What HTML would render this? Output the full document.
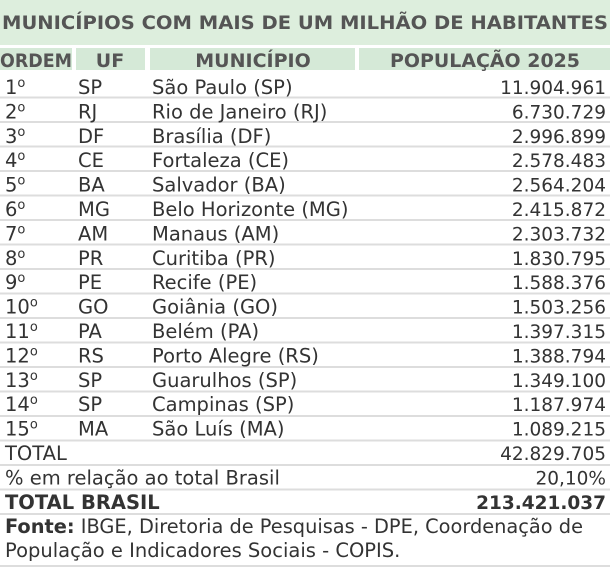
<!DOCTYPE html>
<html><head><meta charset="utf-8"><style>
html,body{margin:0;padding:0;background:#fff;}
svg{display:block;}
text{font-family:"DejaVu Sans","Liberation Sans",sans-serif;fill:#333;font-size:19.5px;}
.h{font-weight:bold;fill:#555;font-size:19px;}
.r{text-anchor:end;font-size:18.5px;}
.c{text-anchor:middle;}
.o{font-size:13px;}
</style></head><body>
<svg width="610" height="569" xmlns="http://www.w3.org/2000/svg">
<rect x="0" y="0" width="610" height="45" fill="#ddeedd"/>
<text class="h" x="2" y="29" textLength="606" lengthAdjust="spacingAndGlyphs">MUNICÍPIOS COM MAIS DE UM MILHÃO DE HABITANTES</text>
<rect x="0" y="48" width="72" height="22" fill="#d5e9d7"/>
<rect x="76" y="48" width="69" height="22" fill="#d5e9d7"/>
<rect x="150" y="48" width="205" height="22" fill="#d5e9d7"/>
<rect x="359" y="48" width="251" height="22" fill="#d5e9d7"/>
<text class="h" x="0" y="67" textLength="72" lengthAdjust="spacingAndGlyphs">ORDEM</text>
<text class="h c" x="110" y="67">UF</text>
<text class="h c" x="253" y="67">MUNICÍPIO</text>
<text class="h c" x="485" y="67" textLength="190" lengthAdjust="spacingAndGlyphs">POPULAÇÃO 2025</text>
<g stroke="#ddd" stroke-width="2">
<line x1="0" x2="610" y1="97.5" y2="97.5"/>
<line x1="0" x2="610" y1="122" y2="122"/>
<line x1="0" x2="610" y1="146.5" y2="146.5"/>
<line x1="0" x2="610" y1="171" y2="171"/>
<line x1="0" x2="610" y1="195.5" y2="195.5"/>
<line x1="0" x2="610" y1="220" y2="220"/>
<line x1="0" x2="610" y1="244.5" y2="244.5"/>
<line x1="0" x2="610" y1="269" y2="269"/>
<line x1="0" x2="610" y1="293.5" y2="293.5"/>
<line x1="0" x2="610" y1="318" y2="318"/>
<line x1="0" x2="610" y1="342.5" y2="342.5"/>
<line x1="0" x2="610" y1="367" y2="367"/>
<line x1="0" x2="610" y1="391.5" y2="391.5"/>
<line x1="0" x2="610" y1="416" y2="416"/>
<line x1="0" x2="610" y1="440.5" y2="440.5"/>
<line x1="0" x2="610" y1="465" y2="465"/>
<line x1="0" x2="610" y1="489.5" y2="489.5"/>
<line x1="0" x2="610" y1="514" y2="514"/>
<line x1="0" x2="610" y1="566" y2="566"/>
</g>
<g>
<text x="5" y="94">1<tspan class="o" dy="-7">o</tspan></text><text x="78" y="94">SP</text><text x="152" y="94">São Paulo (SP)</text><text class="r" x="606" y="94">11.904.961</text>
<text x="5" y="118.4">2<tspan class="o" dy="-7">o</tspan></text><text x="78" y="118.4">RJ</text><text x="152" y="118.4">Rio de Janeiro (RJ)</text><text class="r" x="606" y="118.4">6.730.729</text>
<text x="5" y="142.8">3<tspan class="o" dy="-7">o</tspan></text><text x="78" y="142.8">DF</text><text x="152" y="142.8">Brasília (DF)</text><text class="r" x="606" y="142.8">2.996.899</text>
<text x="5" y="167.2">4<tspan class="o" dy="-7">o</tspan></text><text x="78" y="167.2">CE</text><text x="152" y="167.2">Fortaleza (CE)</text><text class="r" x="606" y="167.2">2.578.483</text>
<text x="5" y="191.6">5<tspan class="o" dy="-7">o</tspan></text><text x="78" y="191.6">BA</text><text x="152" y="191.6">Salvador (BA)</text><text class="r" x="606" y="191.6">2.564.204</text>
<text x="5" y="216">6<tspan class="o" dy="-7">o</tspan></text><text x="78" y="216">MG</text><text x="152" y="216">Belo Horizonte (MG)</text><text class="r" x="606" y="216">2.415.872</text>
<text x="5" y="240.4">7<tspan class="o" dy="-7">o</tspan></text><text x="78" y="240.4">AM</text><text x="152" y="240.4">Manaus (AM)</text><text class="r" x="606" y="240.4">2.303.732</text>
<text x="5" y="264.8">8<tspan class="o" dy="-7">o</tspan></text><text x="78" y="264.8">PR</text><text x="152" y="264.8">Curitiba (PR)</text><text class="r" x="606" y="264.8">1.830.795</text>
<text x="5" y="289.2">9<tspan class="o" dy="-7">o</tspan></text><text x="78" y="289.2">PE</text><text x="152" y="289.2">Recife (PE)</text><text class="r" x="606" y="289.2">1.588.376</text>
<text x="5" y="313.6">10<tspan class="o" dy="-7">o</tspan></text><text x="78" y="313.6">GO</text><text x="152" y="313.6">Goiânia (GO)</text><text class="r" x="606" y="313.6">1.503.256</text>
<text x="5" y="338">11<tspan class="o" dy="-7">o</tspan></text><text x="78" y="338">PA</text><text x="152" y="338">Belém (PA)</text><text class="r" x="606" y="338">1.397.315</text>
<text x="5" y="362.4">12<tspan class="o" dy="-7">o</tspan></text><text x="78" y="362.4">RS</text><text x="152" y="362.4">Porto Alegre (RS)</text><text class="r" x="606" y="362.4">1.388.794</text>
<text x="5" y="386.8">13<tspan class="o" dy="-7">o</tspan></text><text x="78" y="386.8">SP</text><text x="152" y="386.8">Guarulhos (SP)</text><text class="r" x="606" y="386.8">1.349.100</text>
<text x="5" y="411.2">14<tspan class="o" dy="-7">o</tspan></text><text x="78" y="411.2">SP</text><text x="152" y="411.2">Campinas (SP)</text><text class="r" x="606" y="411.2">1.187.974</text>
<text x="5" y="435.6">15<tspan class="o" dy="-7">o</tspan></text><text x="78" y="435.6">MA</text><text x="152" y="435.6">São Luís (MA)</text><text class="r" x="606" y="435.6">1.089.215</text>
<text x="5" y="460">TOTAL</text><text class="r" x="606" y="460">42.829.705</text>
<text x="5" y="484.4">% em relação ao total Brasil</text><text class="r" x="606" y="484.4">20,10%</text>
<text x="5" y="508.8" font-weight="bold">TOTAL BRASIL</text><text class="r" x="606" y="508.8" font-weight="bold" font-size="19.5">213.421.037</text>
<text x="5" y="533" textLength="578" lengthAdjust="spacingAndGlyphs"><tspan font-weight="bold">Fonte:</tspan> IBGE, Diretoria de Pesquisas - DPE, Coordenação de</text>
<text x="5" y="557">População e Indicadores Sociais - COPIS.</text>
</g>
</svg>
</body></html>
